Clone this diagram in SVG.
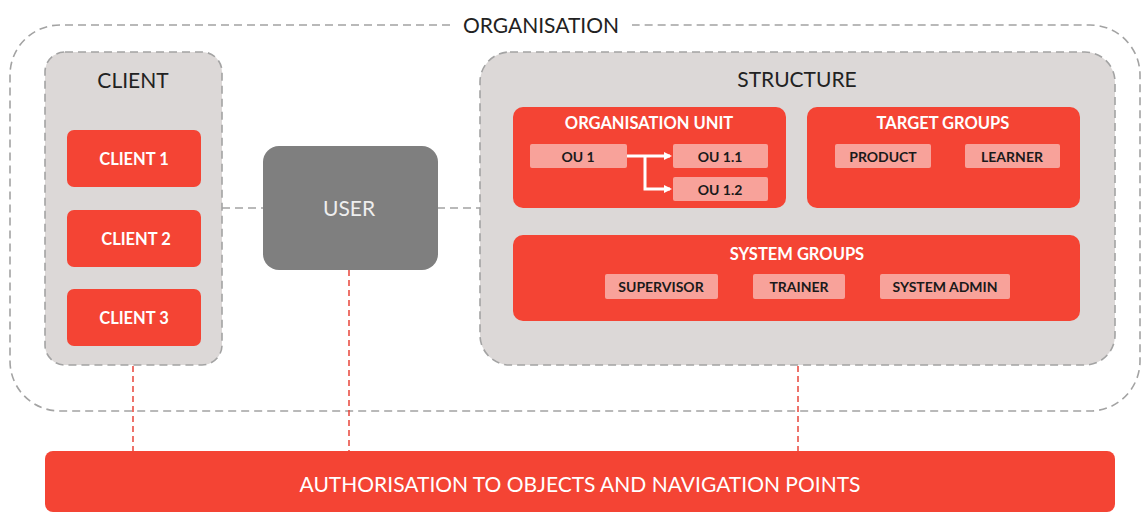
<svg xmlns="http://www.w3.org/2000/svg" width="1141" height="512" viewBox="0 0 1141 512">
<style>
.dash{fill:none;stroke:#a3a3a3;stroke-width:1.6;stroke-dasharray:8 5}
.cont{fill:#dcd8d7;stroke:#a3a3a3;stroke-width:1.6;stroke-dasharray:8 5}
.red{fill:#f44434}
.pink{fill:#f8a29a}
.t{font-family:Lato,"Open Sans","Liberation Sans",sans-serif;text-anchor:middle;dominant-baseline:central}
.hd{font-size:21px;fill:#222}
.wb{font-size:16.5px;font-weight:bold;fill:#fff}
.bb{font-size:14px;font-weight:bold;fill:#1a1a1a}
.rl{fill:none;stroke:#e8443a;stroke-width:1.5;stroke-dasharray:6 4}
.wa{fill:none;stroke:#fff;stroke-width:3}
</style>
<defs>
<marker id="ah" markerWidth="8" markerHeight="8" refX="6" refY="4" orient="auto" markerUnits="userSpaceOnUse">
<path d="M0,0 L8,4 L0,8 z" fill="#fff"/>
</marker>
</defs>
<g id="organisation">
<path class="dash" d="M450,25 H60 A50,50 0 0 0 10,75 V361 A50,50 0 0 0 60,411 H1090 A50,50 0 0 0 1140,361 V75 A50,50 0 0 0 1090,25 H632"/>
<text class="t hd" x="541" y="24">ORGANISATION</text>
</g>
<g id="connectors">
<line class="dash" x1="222" y1="208" x2="263" y2="208"/>
<line class="dash" x1="437" y1="208" x2="480" y2="208"/>
<line class="rl" x1="133" y1="366" x2="133" y2="451"/>
<line class="rl" x1="349" y1="270" x2="349" y2="451"/>
<line class="rl" x1="798" y1="366" x2="798" y2="451"/>
</g>
<g id="client">
<rect class="cont" x="45" y="52" width="177" height="313" rx="20"/>
<text class="t hd" x="133" y="79">CLIENT</text>
</g>
<g id="client1"><rect class="red" x="67" y="130" width="134" height="57" rx="7"/><text class="t wb" x="134" y="159">CLIENT 1</text></g>
<g id="client2"><rect class="red" x="67" y="210" width="134" height="57" rx="7"/><text class="t wb" x="136" y="239">CLIENT 2</text></g>
<g id="client3"><rect class="red" x="67" y="289" width="134" height="57" rx="7"/><text class="t wb" x="134" y="318">CLIENT 3</text></g>
<g id="user">
<rect x="263" y="146" width="175" height="124" rx="16" fill="#7f7f7f"/>
<text class="t" x="349" y="207" font-size="21" fill="#eeeeee">USER</text>
</g>
<g id="structure">
<rect class="cont" x="480" y="52" width="635" height="313" rx="30"/>
<text class="t hd" x="797" y="78">STRUCTURE</text>
</g>
<g id="orgunit">
<rect class="red" x="513" y="107" width="273" height="101" rx="10"/>
<text class="t wb" x="649" y="123">ORGANISATION UNIT</text>
</g>
<g id="ou1"><rect class="pink" x="530" y="144" width="97" height="24" rx="2"/><text class="t bb" x="578" y="156">OU 1</text></g>
<g id="ou11"><rect class="pink" x="673" y="144" width="95" height="24" rx="2"/><text class="t bb" x="720" y="156">OU 1.1</text></g>
<g id="ou12"><rect class="pink" x="673" y="177" width="95" height="24" rx="2"/><text class="t bb" x="720" y="189">OU 1.2</text></g>
<g id="ou-arrows">
<path class="wa" d="M627,156 H670" marker-end="url(#ah)"/>
<path class="wa" d="M645,156 V189 H670" marker-end="url(#ah)"/>
</g>
<g id="targetgroups">
<rect class="red" x="807" y="107" width="273" height="101" rx="10"/>
<text class="t wb" x="943" y="123">TARGET GROUPS</text>
</g>
<g id="product"><rect class="pink" x="835" y="144" width="96" height="24" rx="2"/><text class="t bb" x="883" y="156">PRODUCT</text></g>
<g id="learner"><rect class="pink" x="965" y="144" width="95" height="24" rx="2"/><text class="t bb" x="1012" y="156">LEARNER</text></g>
<g id="systemgroups">
<rect class="red" x="513" y="235" width="567" height="86" rx="10"/>
<text class="t wb" x="797" y="254">SYSTEM GROUPS</text>
</g>
<g id="supervisor"><rect class="pink" x="605" y="274" width="113" height="25" rx="2"/><text class="t bb" x="661" y="286">SUPERVISOR</text></g>
<g id="trainer"><rect class="pink" x="753" y="274" width="92" height="25" rx="2"/><text class="t bb" x="799" y="286">TRAINER</text></g>
<g id="sysadmin"><rect class="pink" x="880" y="274" width="130" height="25" rx="2"/><text class="t bb" x="945" y="286">SYSTEM ADMIN</text></g>
<g id="authorisation">
<rect class="red" x="45" y="451" width="1070" height="61" rx="8"/>
<text class="t" x="580" y="483" font-size="21" fill="#fff">AUTHORISATION TO OBJECTS AND NAVIGATION POINTS</text>
</g>
</svg>
